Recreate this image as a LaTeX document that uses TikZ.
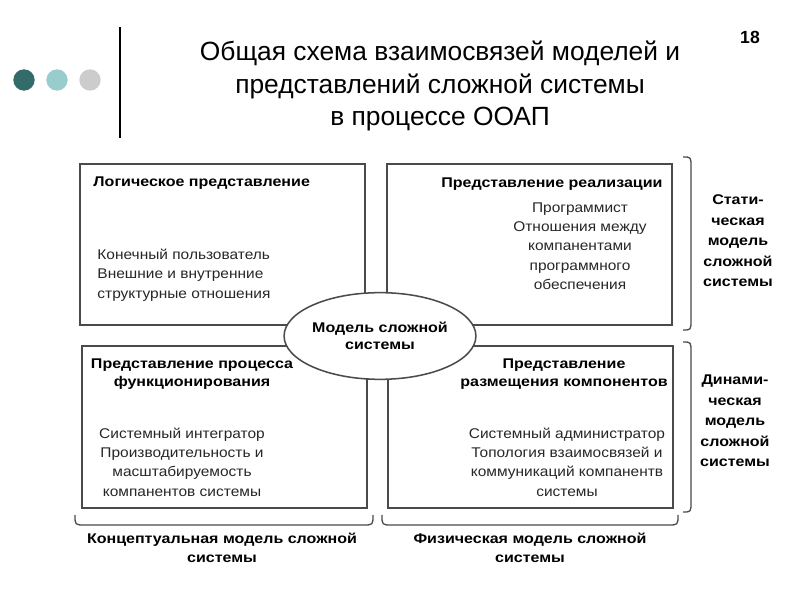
\documentclass[tikz,border=0pt]{standalone}
\usepackage{fontspec}
\setmainfont{Liberation Sans}
\newfontfamily\diagfont[FakeStretch=1.14]{Liberation Sans}
\newfontfamily\bodyfont[FakeStretch=1.10]{Liberation Sans}
\usetikzlibrary{positioning}
\usetikzlibrary{shapes.geometric}

\definecolor{dotdark}{HTML}{336B6B}
\definecolor{dotlight}{HTML}{99CCCC}
\definecolor{dotgray}{HTML}{CCCCCC}
\definecolor{framegray}{HTML}{4A4A4A}

\begin{document}
\begin{tikzpicture}[x=0.03cm, y=-0.03cm, thick]
    \tikzset{
        panel/.style={draw=framegray, line width=1.3pt},
        brace/.style={draw=framegray, line width=1.1pt},
        head/.style={font=\diagfont\fontsize{12}{15}\selectfont\bfseries, align=center, inner sep=0pt},
        body/.style={font=\bodyfont\fontsize{12}{16.5}\selectfont, text=black!85, align=center, inner sep=0pt},
        side/.style={font=\diagfont\fontsize{12}{17.5}\selectfont\bfseries, align=center, inner sep=0pt},
        dot/.style={circle, minimum size=0.64cm, inner sep=0pt}
    }
    \useasboundingbox (0,0) rectangle (800,600);

    % draw slide header
    \node[dot, fill=dotdark] (d1) at (24,80) {};
    \node[dot, fill=dotlight] (d2) at (57,80) {};
    \node[dot, fill=dotgray] (d3) at (90,80) {};
    \draw[line width=2.4pt] (120,27) -- (120,138);
    \node[font=\fontsize{22.5}{27.5}\selectfont, align=center] (title) at (440,86)
        {Общая схема взаимосвязей моделей и\\представлений сложной системы\\в процессе ООАП};
    \node[font=\fontsize{15}{16}\selectfont\bfseries] (page) at (750,37) {18};

    % draw the four views
    \draw[panel] (80,164) rectangle (365,325);
    \draw[panel] (387,164) rectangle (672,325);
    \draw[panel] (82,346) rectangle (367,508);
    \draw[panel] (388,346) rectangle (673,508);

    % logical view
    \node[head, anchor=west] (logic) at (93,183) {Логическое представление};
    \node[body, anchor=west, align=left] (logicbody) at (97,275)
        {Конечный пользователь\\Внешние и внутренние\\структурные отношения};

    % implementation view
    \node[head, anchor=east] (impl) at (663,184) {Представление реализации};
    \node[body] (implbody) at (580,246)
        {Программист\\Отношения между\\компанентами\\программного\\обеспечения};

    % process view
    \node[head] (proc) at (192,374) {Представление процесса\\функционирования};
    \node[body] (procbody) at (182,462)
        {Системный интегратор\\Производительность и\\масштабируемость\\компанентов системы};

    % deployment view
    \node[head] (deploy) at (564,374) {Представление\\размещения компонентов};
    \node[body] (deploybody) at (567,462)
        {Системный администратор\\Топология взаимосвязей и\\коммуникаций компанентв\\системы};

    % draw the model in the middle
    \node[ellipse, panel, fill=white, minimum width=5.7cm, minimum height=2.6cm,
          head] (core) at (380,336) {Модель сложной\\системы};

    % draw the brackets
    \draw[brace] (683,157) .. controls (691,157) .. (691,167) -- (691,320) .. controls (691,330) .. (683,330);
    \draw[brace] (683,342) .. controls (691,342) .. (691,352) -- (691,502) .. controls (691,512) .. (683,512);
    \draw[brace] (75,515) .. controls (75,525) .. (85,525) -- (363,525) .. controls (373,525) .. (373,515);
    \draw[brace] (382,515) .. controls (382,525) .. (392,525) -- (668,525) .. controls (678,525) .. (678,515);

    % bracket labels
    \node[side] (static) at (738,241) {Стати-\\ческая\\модель\\сложной\\системы};
    \node[side] (dynamic) at (735,421) {Динами-\\ческая\\модель\\сложной\\системы};
    \node[side, font=\diagfont\fontsize{12}{16}\selectfont\bfseries] (concept) at (222,548) {Концептуальная модель сложной\\системы};
    \node[side, font=\diagfont\fontsize{12}{16}\selectfont\bfseries] (phys) at (530,548) {Физическая модель сложной\\системы};
\end{tikzpicture}
\end{document}
